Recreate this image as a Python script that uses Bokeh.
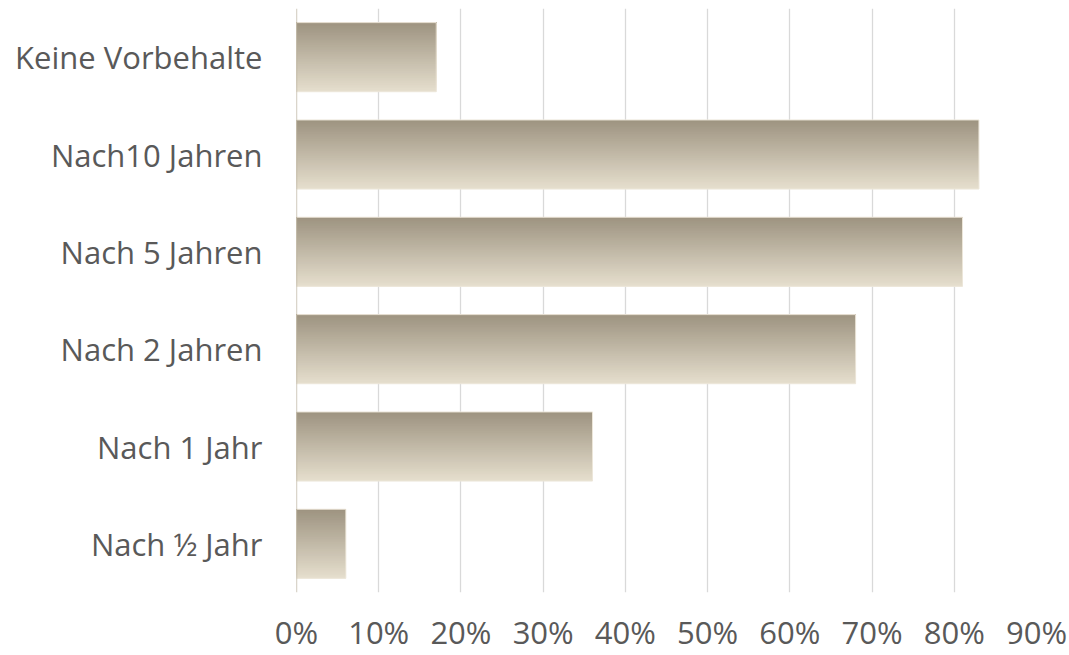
from bokeh.plotting import figure
from bokeh.models import ColumnDataSource, FixedTicker, PrintfTickFormatter, FactorRange, Range1d, Span
from bokeh.transform import dodge
from bokeh.embed import file_html
from bokeh.resources import INLINE

categories = ["Keine Vorbehalte", "Nach10 Jahren", "Nach 5 Jahren", "Nach 2 Jahren", "Nach 1 Jahr", "Nach ½ Jahr"]
values = [17, 83, 81, 68, 36, 6]
x_ticks = [0, 10, 20, 30, 40, 50, 60, 70, 80, 90]

src = ColumnDataSource(dict(cat=categories, val=values))

p = figure(width=1069, height=655, output_backend="svg", toolbar_location=None,
           y_range=FactorRange(factors=list(reversed(categories))),
           x_range=Range1d(0, 90),
           min_border_left=296, min_border_right=33, min_border_top=8, min_border_bottom=62)
p.outline_line_color = None
p.background_fill_color = "white"
p.border_fill_color = "white"

# gradient bars: stacked rects from the bar top down, lightest (full bar) first
bar_h = 0.71
N = 40
top = (0x9e, 0x94, 0x81)
bot = (0xe5, 0xde, 0xcd)
for i in range(N):
    t = (N - 1 - i) / (N - 1)  # i=0 -> lightest (bottom colour)
    c = tuple(int(round(top[k] + (bot[k] - top[k]) * t)) for k in range(3))
    col = "#%02x%02x%02x" % c
    h = bar_h * (N - i) / N
    off = bar_h / 2 - h / 2
    p.hbar(y=dodge("cat", off, range=p.y_range), right="val", left=0, height=h,
           source=src, fill_color=col, line_color=None)
p.hbar(y="cat", right="val", left=0, height=bar_h, source=src,
       fill_color=None, line_color="#ece6d9", line_width=1)

# axes
p.xaxis.ticker = FixedTicker(ticks=x_ticks)
p.xaxis.formatter = PrintfTickFormatter(format="%d%%")
p.xaxis.axis_line_color = None
p.xaxis.major_tick_line_color = None
p.xaxis.minor_tick_line_color = None
p.xaxis.major_label_text_font = "Open Sans"
p.xaxis.major_label_text_font_size = "31px"
p.xaxis.major_label_text_color = "#595959"
p.xaxis.major_label_standoff = 12

p.yaxis.axis_line_color = None
p.yaxis.major_tick_line_color = None
p.yaxis.minor_tick_line_color = None
p.yaxis.major_label_text_font = "Open Sans"
p.yaxis.major_label_text_font_size = "31px"
p.yaxis.major_label_text_color = "#595959"
p.yaxis.major_label_standoff = 28

p.ygrid.grid_line_color = None
p.xgrid.ticker = FixedTicker(ticks=x_ticks[1:])
p.xgrid.grid_line_color = "#d9d9d9"
p.xgrid.grid_line_width = 1.3

p.add_layout(Span(location=0, dimension="height", line_color="#b5ab98", line_width=1.3))

open("out.html", "w").write(file_html(p, INLINE))
